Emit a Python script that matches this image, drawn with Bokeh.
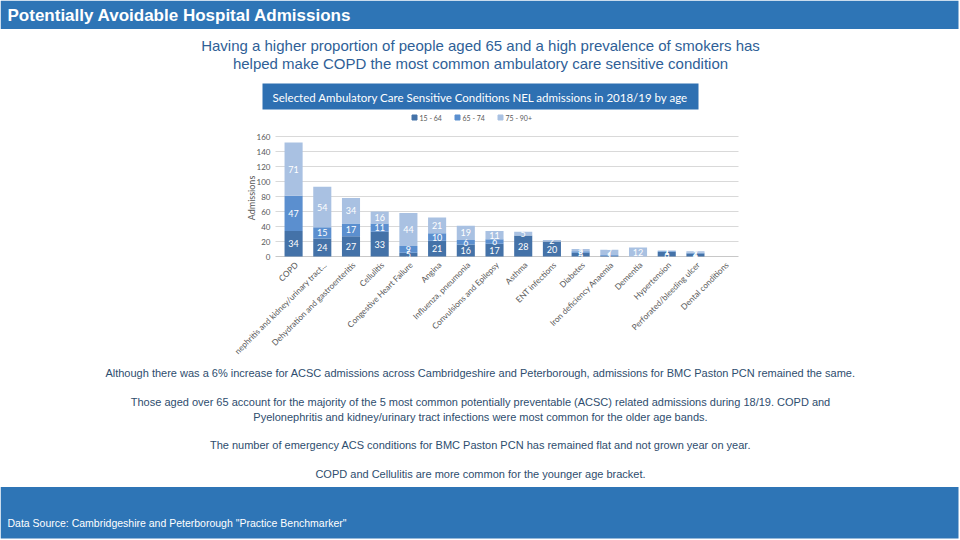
from bokeh.plotting import figure
from bokeh.models import Range1d, ColumnDataSource
from bokeh.embed import file_html
from bokeh.resources import INLINE
from bokeh.core.properties import value
import math

# ---------------- data ----------------
# (the second label is shown as cropped in the source image)
categories = [
    "COPD",
    "nephritis and kidney/urinary tract...",
    "Dehydration and gastroenteritis",
    "Cellulitis",
    "Congestive Heart Failure",
    "Angina",
    "Influenza, pneumonia",
    "Convulsions and Epilepsy",
    "Asthma",
    "ENT infections",
    "Diabetes",
    "Iron deficiency Anaemia",
    "Dementia",
    "Hypertension",
    "Perforated/bleeding ulcer",
    "Dental conditions",
]
series_names = ["15 - 64", "65 - 74", "75 - 90+"]
age_15_64 = [34, 24, 27, 33, 5, 21, 16, 17, 28, 20, 5, 1, 0, 6, 4, 0]
age_65_74 = [47, 15, 17, 11, 9, 10, 6, 6, 0, 0, 2, 1, 0, 1, 1, 0]
age_75_90 = [71, 54, 34, 16, 44, 21, 19, 11, 5, 2, 3, 7, 12, 1, 2, 0]
y_ticks = [0, 20, 40, 60, 80, 100, 120, 140, 160]
y_axis_title = "Admissions"

title_text = "Potentially Avoidable Hospital Admissions"
subtitle_lines = [
    "Having a higher proportion of people aged 65 and a high prevalence of smokers has",
    "helped make COPD the most common ambulatory care sensitive condition",
]
chart_title = "Selected Ambulatory Care Sensitive Conditions NEL admissions in 2018/19 by age"
paragraphs = [
    "Although there was a 6% increase for ACSC admissions across Cambridgeshire and Peterborough, admissions for BMC Paston PCN remained the same.",
    "Those aged over 65 account for the majority of the 5 most common potentially preventable (ACSC) related admissions during 18/19. COPD and",
    "Pyelonephritis and kidney/urinary tract infections were most common for the older age bands.",
    "The number of emergency ACS conditions for BMC Paston PCN has remained flat and not grown year on year.",
    "COPD and Cellulitis are more common for the younger age bracket.",
]
source_text = "Data Source: Cambridgeshire and Peterborough \"Practice Benchmarker\""

# ---------------- styles / geometry (page pixels) ----------------
BLUE = "#2E75B6"
SUB = "#2F5F97"
BODY = "#2E4D6E"
C1, C2, C3 = "#4472A8", "#5B8FCF", "#A9C1E2"
GRAY = "#595959"
GRID = "#D9D9D9"
PAGE_L, PAGE_R, PAGE_T, PAGE_B = 0, 960, 0, 540
PLOT_L, PLOT_R, PLOT_T, PLOT_B = 275, 738, 136, 256
n = len(categories)
X0, X1 = -0.63, n - 0.5
Y0, Y1 = 0, 160
sx = (PLOT_R - PLOT_L) / (X1 - X0)
sy = (PLOT_B - PLOT_T) / (Y1 - Y0)
x_range = Range1d(X0 - (PLOT_L - PAGE_L) / sx, X1 + (PAGE_R - PLOT_R) / sx)
y_range = Range1d(Y0 - (PAGE_B - PLOT_B) / sy, Y1 + (PLOT_T - PAGE_T) / sy)

p = figure(width=PAGE_R - PAGE_L, height=PAGE_B - PAGE_T, x_range=x_range, y_range=y_range,
           output_backend="svg", toolbar_location=None,
           x_axis_location=None, y_axis_location=None, min_border=0)
p.grid.visible = False
p.outline_line_color = None
p.extra_x_ranges = {"px": Range1d(PAGE_L, PAGE_R)}
p.extra_y_ranges = {"py": Range1d(PAGE_B, PAGE_T)}
PX = dict(x_range_name="px", y_range_name="py")

# ---------------- header ----------------
p.quad(left=[0], right=[958], top=[0], bottom=[28.5], fill_color=BLUE, line_color=None, **PX)
p.text(x=[7], y=[15], text=[title_text], text_color="white", text_font=value("Liberation Sans"),
       text_font_style="bold", text_font_size="17px", text_baseline="middle", text_align="left", **PX)
p.text(x=[480, 480], y=[45, 63], text=subtitle_lines, text_color=SUB, text_font=value("Liberation Sans"),
       text_font_size="15px", text_baseline="middle", text_align="center", **PX)
p.quad(left=[262], right=[698], top=[83], bottom=[109], fill_color="#2E70B2", line_color=None, **PX)
p.text(x=[480], y=[96.5], text=[chart_title], text_color="white", text_font=value("Lato"),
       text_font_size="11.5px", text_baseline="middle", text_align="center", **PX)
leg_x = [414, 457, 500]
p.scatter(x=leg_x, y=[117, 117, 117], marker="square", size=5, color=[C1, C2, C3], **PX)
p.text(x=[x + 5 for x in leg_x], y=[117.5] * 3, text=series_names, text_color=GRAY, text_font=value("Lato"),
       text_font_size="7px", text_baseline="middle", text_align="left", **PX)

# ---------------- chart (data coordinates) ----------------
xs = list(range(n))
grid_ticks = [t for t in y_ticks if t > 0]
p.segment(x0=[X0] * len(grid_ticks), x1=[X1] * len(grid_ticks), y0=grid_ticks, y1=grid_ticks,
          line_color=GRID, line_width=1)
p.segment(x0=[X0], x1=[X1], y0=[0], y1=[0], line_color="#C8C8C8", line_width=1)

src = ColumnDataSource(dict(x=xs, a=age_15_64, b=age_65_74, c=age_75_90))
p.vbar_stack(["a", "b", "c"], x="x", width=0.63, source=src, color=[C1, C2, C3], line_color=None)

lx, ly, lt = [], [], []
for i in range(n):
    base = 0
    for v in (age_15_64[i], age_65_74[i], age_75_90[i]):
        if v > 0:
            lx.append(i)
            ly.append(base + v / 2)
            lt.append(str(v))
        base += v
p.text(x=lx, y=ly, text=lt, text_color="white", text_font=value("Lato"), text_font_size="9px",
       text_align="center", text_baseline="middle")

# y tick labels
p.text(x=[X0 - 5 / sx] * len(y_ticks), y=y_ticks, text=[str(t) for t in y_ticks], text_color=GRAY,
       text_font=value("Lato"), text_font_size="8px", text_align="right", text_baseline="middle")
# y axis title
p.text(x=[X0 - 24 / sx], y=[(Y0 + Y1) / 2 - 2], text=[y_axis_title], angle=math.pi / 2, text_color=GRAY,
       text_font=value("Lato"), text_font_size="9px", text_align="center", text_baseline="middle")
# category labels, rotated 45 degrees
p.text(x=[i + 0.1 for i in xs], y=[-7 / sy] * n, text=categories, angle=math.pi / 4, text_color=GRAY,
       text_font=value("Lato"), text_font_size="8.2px", text_align="right", text_baseline="middle")

# ---------------- paragraphs ----------------
para_y = [372, 401, 416, 444, 473]
p.text(x=[480] * len(paragraphs), y=para_y, text=paragraphs, text_color=BODY,
       text_font=value("Liberation Sans"), text_font_size="11px", text_align="center",
       text_baseline="middle", **PX)

# ---------------- footer ----------------
p.quad(left=[0], right=[958], top=[486.5], bottom=[538], fill_color=BLUE, line_color=None, **PX)
p.text(x=[7], y=[522], text=[source_text], text_color="white", text_font=value("Liberation Sans"),
       text_font_size="10.5px", text_baseline="middle", text_align="left", **PX)

open("out.html", "w").write(file_html(p, INLINE))
